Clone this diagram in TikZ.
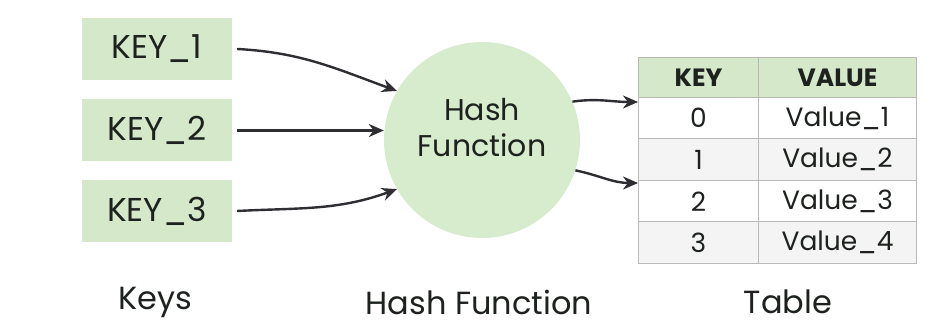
\documentclass[tikz,border=0pt]{standalone}
\usepackage{fontspec}
\setmainfont{Poppins}
\usetikzlibrary{arrows.meta}
\definecolor{kgreen}{RGB}{213,232,202}
\definecolor{cgreen}{RGB}{215,235,205}
\definecolor{gridc}{RGB}{185,185,185}
\definecolor{rowgray}{RGB}{244,244,244}
\definecolor{txt}{RGB}{30,34,30}
\definecolor{arr}{RGB}{45,45,50}
\begin{document}
\begin{tikzpicture}[x=1pt,y=-1pt,
  keybox/.style={fill=kgreen,minimum width=150pt,minimum height=62pt,inner sep=0pt,font=\fontsize{33}{38}\selectfont,text=txt},
  cell/.style={draw=gridc,line width=1pt,inner sep=0pt,font=\fontsize{26.5}{30}\selectfont,text=txt,anchor=north west,minimum height=41.5pt},
  c1/.style={cell,minimum width=120pt},
  c2/.style={cell,minimum width=158pt},
  hdr/.style={fill=kgreen,font=\fontsize{25}{30}\selectfont\bfseries,minimum height=40pt},
  conn/.style={draw=arr,line width=2.4pt,-{Stealth[length=15pt,width=13pt]}},
  lbl/.style={font=\fontsize{32}{36}\selectfont,text=txt}]
\useasboundingbox[fill=white] (0,0) rectangle (949,328);
% keys
\node[keybox] (k1) at (157,49) {KEY\_1};
\node[keybox] (k2) at (157,130.5) {KEY\_2};
\node[keybox] (k3) at (157,211) {KEY\_3};
% hash
\node[circle,fill=cgreen,minimum size=196pt,inner sep=0pt] (h) at (482,140) {};
\node[align=center,text=txt,font=\fontsize{30}{36}\selectfont,inner sep=0pt] (ht) at (482,128) {Hash\\Function};
% table
\node[c1,hdr] (hk) at (638,57) {KEY};
\node[c2,hdr] (hv) at (758,57) {VALUE};
\node[c1,fill=white] (r0k) at (638,97) {0};
\node[c2,fill=white] (r0v) at (758,97) {Value\_1};
\node[c1,fill=rowgray] (r1k) at (638,138.5) {1};
\node[c2,fill=rowgray] (r1v) at (758,138.5) {Value\_2};
\node[c1,fill=white] (r2k) at (638,180) {2};
\node[c2,fill=white] (r2v) at (758,180) {Value\_3};
\node[c1,fill=rowgray] (r3k) at (638,221.5) {3};
\node[c2,fill=rowgray] (r3v) at (758,221.5) {Value\_4};
% arrow targets
\coordinate (t1) at ([yshift=-5pt]r0k.north west);
\coordinate (t2) at ([yshift=-2pt]r1k.south west);
\coordinate (s1) at (h.23);
\coordinate (s2) at (h.-18);
% connectors
\draw[conn] ([xshift=5pt]k1.east) to[out=-3,in=160] (h.150);
\draw[conn] ([xshift=5pt]k2.east) -- (h.west |- k2.east);
\draw[conn] ([xshift=5pt]k3.east) to[out=3,in=200] (h.210);
\draw[conn] (s1) to[out=8,in=180] (t1);
\draw[conn] (s2) to[out=-12,in=180] (t2);
% labels
\node[lbl] (lk) at (155,302) {Keys};
\node[lbl] (lh) at (479,302) {Hash Function};
\node[lbl] (lt) at (788,302) {Table};
\end{tikzpicture}
\end{document}
